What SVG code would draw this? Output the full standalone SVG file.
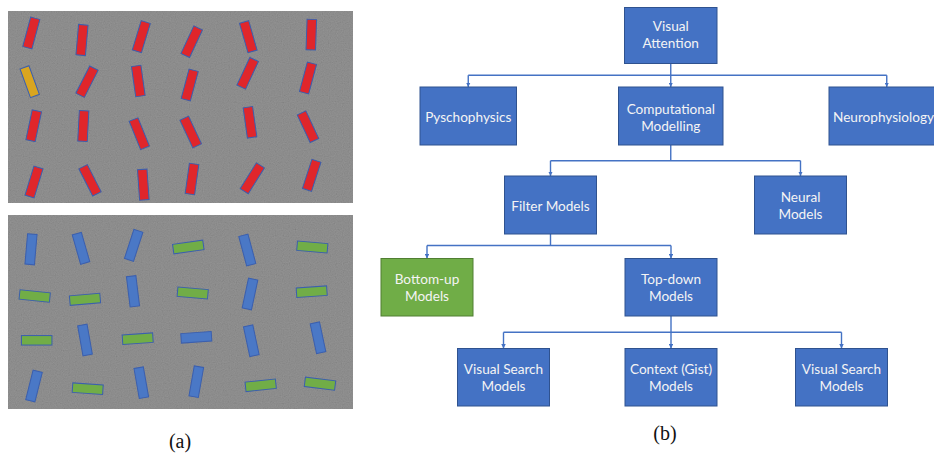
<svg xmlns="http://www.w3.org/2000/svg" xmlns:xlink="http://www.w3.org/1999/xlink" width="934" height="456" viewBox="0 0 934 456">
  <style>
    .panel { fill: #7f7f7f; }
    .bar { stroke: #3b5fae; stroke-width: 1; }
    .red { fill: #e0262b; }
    .yel { fill: #d9a520; }
    .blu { fill: #4a78c6; }
    .grn { fill: #71ad47; }
    .node rect { fill: #4472c4; stroke: #2f528f; stroke-width: 1; }
    .node.green rect { fill: #70ad47; stroke: #507e32; }
    .node text { fill: #f4f4f4; font-family: Lato, "Liberation Sans", sans-serif; font-size: 13.6px; text-anchor: middle; }
    .conn { fill: none; stroke: #4472c4; stroke-width: 1.4; }
    .cap { font-family: "Liberation Serif", "DejaVu Serif", serif; font-size: 20px; fill: #111; text-anchor: middle; }
  </style>
  <defs>
    <rect id="bar" x="-4.75" y="-15.25" width="9.5" height="30.5"/>
    <filter id="grain" x="0" y="0" width="1" height="1">
      <feTurbulence type="fractalNoise" baseFrequency="0.85" numOctaves="1" seed="7"/>
      <feColorMatrix type="matrix" values="0.33 0.33 0.33 0 0  0.33 0.33 0.33 0 0  0.33 0.33 0.33 0 0  0 0 0 0 0.22"/>
    </filter>
    <marker id="arrow" viewBox="0 0 10 10" refX="10" refY="5" markerWidth="4.5" markerHeight="4.5" markerUnits="userSpaceOnUse" orient="auto">
      <path d="M0,0 L10,5 L0,10 z" fill="#4472c4"/>
    </marker>
  </defs>

  <rect width="934" height="456" fill="#ffffff"/>

  <!-- (a) top panel: red bars with one yellow odd-one-out -->
  <g id="panel-top">
    <rect class="panel" x="8" y="11" width="345" height="192"/>
    <rect x="8" y="11" width="345" height="192" filter="url(#grain)"/>
    <g class="bar">
      <use href="#bar" class="red" transform="translate(31.3,33) rotate(15)"/>
      <use href="#bar" class="red" transform="translate(82,40) rotate(5)"/>
      <use href="#bar" class="red" transform="translate(141.3,36.7) rotate(17)"/>
      <use href="#bar" class="red" transform="translate(191.7,41.7) rotate(25)"/>
      <use href="#bar" class="red" transform="translate(248.3,36.7) rotate(-16)"/>
      <use href="#bar" class="red" transform="translate(311.3,34.7) rotate(2)"/>

      <use href="#bar" class="yel" transform="translate(29.7,81.7) rotate(-20)"/>
      <use href="#bar" class="red" transform="translate(87,81.7) rotate(27)"/>
      <use href="#bar" class="red" transform="translate(138.3,81) rotate(-8)"/>
      <use href="#bar" class="red" transform="translate(189.7,85) rotate(15)"/>
      <use href="#bar" class="red" transform="translate(247.7,73.3) rotate(25)"/>
      <use href="#bar" class="red" transform="translate(308,78) rotate(15)"/>

      <use href="#bar" class="red" transform="translate(33.7,125.7) rotate(12)"/>
      <use href="#bar" class="red" transform="translate(83.3,126) rotate(3)"/>
      <use href="#bar" class="red" transform="translate(139.3,133.7) rotate(-22)"/>
      <use href="#bar" class="red" transform="translate(190.7,132) rotate(-25)"/>
      <use href="#bar" class="red" transform="translate(250,122.3) rotate(-8)"/>
      <use href="#bar" class="red" transform="translate(308,126.7) rotate(-25)"/>

      <use href="#bar" class="red" transform="translate(34,182) rotate(17)"/>
      <use href="#bar" class="red" transform="translate(90,180.3) rotate(-27)"/>
      <use href="#bar" class="red" transform="translate(143.3,184.7) rotate(-4)"/>
      <use href="#bar" class="red" transform="translate(192,179) rotate(8)"/>
      <use href="#bar" class="red" transform="translate(252.3,178.3) rotate(32)"/>
      <use href="#bar" class="red" transform="translate(311.7,175.3) rotate(18)"/>
    </g>
  </g>

  <!-- (a) bottom panel: blue and green bars in mixed orientations -->
  <g id="panel-bottom">
    <rect class="panel" x="8" y="215" width="345" height="194"/>
    <rect x="8" y="215" width="345" height="194" filter="url(#grain)"/>
    <g class="bar">
      <use href="#bar" class="blu" transform="translate(31,249.3) rotate(5)"/>
      <use href="#bar" class="blu" transform="translate(81,248.3) rotate(-16)"/>
      <use href="#bar" class="blu" transform="translate(133.7,245.3) rotate(18)"/>
      <use href="#bar" class="grn" transform="translate(188.3,247) rotate(82)"/>
      <use href="#bar" class="blu" transform="translate(247.3,250) rotate(-15)"/>
      <use href="#bar" class="grn" transform="translate(312.3,247) rotate(95)"/>

      <use href="#bar" class="grn" transform="translate(34.7,296) rotate(96)"/>
      <use href="#bar" class="grn" transform="translate(85,299.3) rotate(85)"/>
      <use href="#bar" class="blu" transform="translate(133,291.3) rotate(-7)"/>
      <use href="#bar" class="grn" transform="translate(192.7,293) rotate(95)"/>
      <use href="#bar" class="blu" transform="translate(250,294) rotate(12)"/>
      <use href="#bar" class="grn" transform="translate(311.7,291.7) rotate(86)"/>

      <use href="#bar" class="grn" transform="translate(36.7,340.3) rotate(90)"/>
      <use href="#bar" class="blu" transform="translate(85,340) rotate(-10)"/>
      <use href="#bar" class="grn" transform="translate(137.7,338.7) rotate(86)"/>
      <use href="#bar" class="blu" transform="translate(196.3,337.3) rotate(86)"/>
      <use href="#bar" class="blu" transform="translate(251.3,340.7) rotate(-12)"/>
      <use href="#bar" class="blu" transform="translate(318,337.7) rotate(-12)"/>

      <use href="#bar" class="blu" transform="translate(34,386) rotate(14)"/>
      <use href="#bar" class="grn" transform="translate(87.7,388.7) rotate(94)"/>
      <use href="#bar" class="blu" transform="translate(141.3,382.7) rotate(-10)"/>
      <use href="#bar" class="blu" transform="translate(196.3,381.7) rotate(10)"/>
      <use href="#bar" class="grn" transform="translate(260.7,385.3) rotate(84)"/>
      <use href="#bar" class="grn" transform="translate(320,383.7) rotate(97)"/>
    </g>
  </g>

  <!-- (b) hierarchy connectors -->
  <g id="connectors">
    <path class="conn" d="M670.75,63.5 V87" marker-end="url(#arrow)"/>
    <path class="conn" d="M468.25,75.3 H886.75"/>
    <path class="conn" d="M468.25,75.3 V87" marker-end="url(#arrow)"/>
    <path class="conn" d="M886.75,75.3 V87" marker-end="url(#arrow)"/>

    <path class="conn" d="M670.75,145 V160.7"/>
    <path class="conn" d="M550.5,160.7 H800.5"/>
    <path class="conn" d="M550.5,160.7 V176" marker-end="url(#arrow)"/>
    <path class="conn" d="M800.5,160.7 V176" marker-end="url(#arrow)"/>

    <path class="conn" d="M550.5,234 V245.5"/>
    <path class="conn" d="M427,245.5 H671"/>
    <path class="conn" d="M427,245.5 V258.5" marker-end="url(#arrow)"/>
    <path class="conn" d="M671,245.5 V258.5" marker-end="url(#arrow)"/>

    <path class="conn" d="M671,316 V348.5" marker-end="url(#arrow)"/>
    <path class="conn" d="M503.5,332.3 H841.5"/>
    <path class="conn" d="M503.5,332.3 V348.5" marker-end="url(#arrow)"/>
    <path class="conn" d="M841.5,332.3 V348.5" marker-end="url(#arrow)"/>
  </g>

  <!-- (b) hierarchy nodes -->
  <g id="visual-attention" class="node">
    <rect x="624.5" y="7.5" width="92.5" height="56"/>
    <text x="670.75" y="30.5">Visual</text>
    <text x="670.75" y="48">Attention</text>
  </g>
  <g id="pyschophysics" class="node">
    <rect x="420" y="87" width="96.5" height="58"/>
    <text x="468.25" y="121.5">Pyschophysics</text>
  </g>
  <g id="computational-modelling" class="node">
    <rect x="618.5" y="87" width="104.5" height="58"/>
    <text x="670.75" y="113.5">Computational</text>
    <text x="670.75" y="130.8">Modelling</text>
  </g>
  <g id="neurophysiology" class="node">
    <rect x="829" y="87" width="116" height="58"/>
    <text x="883.5" y="121.5">Neurophysiology</text>
  </g>
  <g id="filter-models" class="node">
    <rect x="504.5" y="176" width="92" height="58"/>
    <text x="550.5" y="210.5">Filter Models</text>
  </g>
  <g id="neural-models" class="node">
    <rect x="754.5" y="176" width="92" height="58"/>
    <text x="800.5" y="201.8">Neural</text>
    <text x="800.5" y="219.1">Models</text>
  </g>
  <g id="bottom-up-models" class="node green">
    <rect x="381" y="258.5" width="92" height="57.5"/>
    <text x="427" y="284">Bottom-up</text>
    <text x="427" y="301.3">Models</text>
  </g>
  <g id="top-down-models" class="node">
    <rect x="625" y="258.5" width="92" height="57.5"/>
    <text x="671" y="284">Top-down</text>
    <text x="671" y="301.3">Models</text>
  </g>
  <g id="visual-search-models-1" class="node">
    <rect x="457.5" y="348.5" width="92" height="57.5"/>
    <text x="503.5" y="374">Visual Search</text>
    <text x="503.5" y="391.3">Models</text>
  </g>
  <g id="context-gist-models" class="node">
    <rect x="625" y="348.5" width="92" height="57.5"/>
    <text x="671" y="374">Context (Gist)</text>
    <text x="671" y="391.3">Models</text>
  </g>
  <g id="visual-search-models-2" class="node">
    <rect x="795.5" y="348.5" width="92" height="57.5"/>
    <text x="841.5" y="374">Visual Search</text>
    <text x="841.5" y="391.3">Models</text>
  </g>

  <!-- sub-figure captions -->
  <text class="cap" x="180" y="448">(a)</text>
  <text class="cap" x="665" y="440">(b)</text>
</svg>
